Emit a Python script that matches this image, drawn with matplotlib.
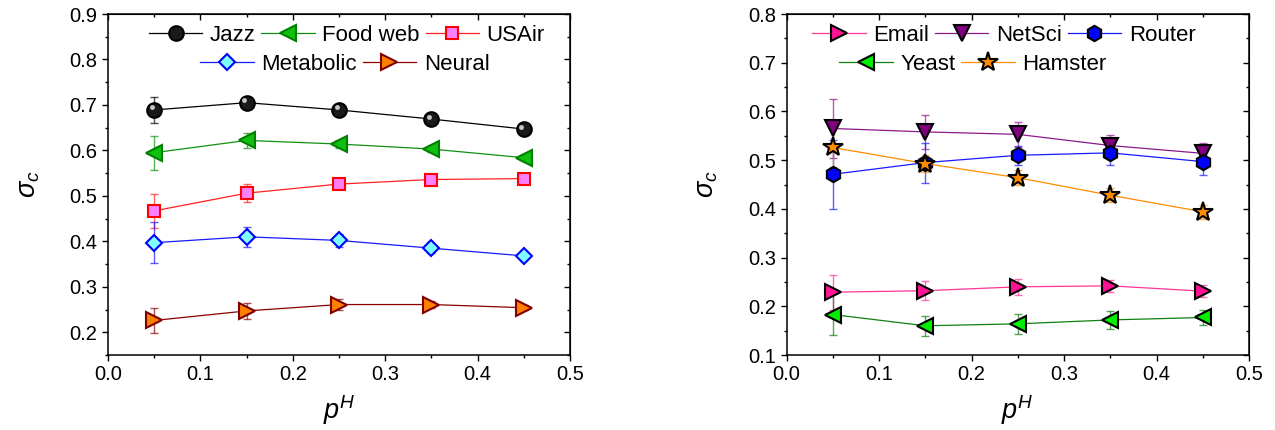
import matplotlib
matplotlib.use('Agg')
import matplotlib.pyplot as plt
from matplotlib.ticker import MultipleLocator
from matplotlib.transforms import offset_copy

plt.rcParams['font.family'] = ['Liberation Sans', 'DejaVu Sans']
plt.rcParams['mathtext.fontset'] = 'custom'
plt.rcParams['mathtext.rm'] = 'Liberation Sans'
plt.rcParams['mathtext.it'] = 'Liberation Sans:italic'

# data
p_h = [0.05, 0.15, 0.25, 0.35, 0.45]

jazz = [0.689, 0.705, 0.689, 0.669, 0.647]
jazz_err = [0.028, 0.012, 0.008, 0.006, 0.005]
foodweb = [0.595, 0.622, 0.614, 0.603, 0.584]
foodweb_err = [0.037, 0.017, 0.008, 0.007, 0.006]
usair = [0.467, 0.506, 0.526, 0.536, 0.538]
usair_err = [0.037, 0.020, 0.010, 0.006, 0.005]
metabolic = [0.397, 0.410, 0.402, 0.385, 0.368]
metabolic_err = [0.045, 0.022, 0.015, 0.010, 0.006]
neural = [0.226, 0.247, 0.261, 0.261, 0.254]
neural_err = [0.028, 0.017, 0.012, 0.008, 0.006]

email = [0.229, 0.232, 0.240, 0.242, 0.231]
email_err = [0.036, 0.020, 0.017, 0.012, 0.012]
netsci = [0.565, 0.558, 0.553, 0.530, 0.514]
netsci_err = [0.060, 0.035, 0.026, 0.022, 0.022]
router = [0.471, 0.495, 0.510, 0.515, 0.497]
router_err = [0.071, 0.041, 0.020, 0.025, 0.028]
yeast = [0.183, 0.160, 0.164, 0.172, 0.177]
yeast_err = [0.042, 0.021, 0.021, 0.018, 0.016]
hamster = [0.526, 0.493, 0.464, 0.428, 0.394]
hamster_err = [0.040, 0.018, 0.015, 0.014, 0.014]

fig = plt.figure(figsize=(12.75, 4.3), dpi=100)
ax1 = fig.add_axes([0.0847, 0.1744, 0.3624, 0.793])
ax2 = fig.add_axes([0.617, 0.1744, 0.3626, 0.793])


def draw(ax, y, err, label, line_c, marker, face, edge, ms, err_alpha=0.7):
    ax.errorbar(p_h, y, yerr=err, fmt='none', ecolor=line_c, elinewidth=1.0,
                capsize=3, capthick=1.0, alpha=err_alpha, zorder=2)
    h, = ax.plot(p_h, y, '-', color=line_c, lw=0.9, marker=marker, ms=ms,
                 mfc=face, mec=edge, mew=1.5, label=label, zorder=3)
    return h


h_jazz = draw(ax1, jazz, jazz_err, 'Jazz', 'black', 'o', '#1a1a1a', 'black', 10.5)
# small highlight to mimic the shaded sphere
ax1.plot(p_h, jazz, 'o', ms=3.5, color='#c8c8c8', mec='none', zorder=4,
         transform=offset_copy(ax1.transData, fig, x=-2.5, y=2.5, units='dots'))
h_food = draw(ax1, foodweb, foodweb_err, 'Food web', '#109010', '<', '#10c010', '#008000', 11)
h_usair = draw(ax1, usair, usair_err, 'USAir', '#ff2020', 's', '#ff80ff', '#ff0000', 8.5)
h_meta = draw(ax1, metabolic, metabolic_err, 'Metabolic', '#1a1aff', 'D', '#80ffff', '#0000ff', 8.5)
h_neur = draw(ax1, neural, neural_err, 'Neural', '#8b0000', '>', '#ff8000', '#800000', 11)

h_email = draw(ax2, email, email_err, 'Email', '#ff3399', '>', '#ff1493', 'black', 11)
h_net = draw(ax2, netsci, netsci_err, 'NetSci', '#8b1a8b', 'v', '#800080', 'black', 11)
h_rout = draw(ax2, router, router_err, 'Router', '#1a1aff', 'h', '#0000ff', 'black', 11)
h_yeast = draw(ax2, yeast, yeast_err, 'Yeast', '#108010', '<', '#00ee00', 'black', 11)
h_ham = draw(ax2, hamster, hamster_err, 'Hamster', '#ff8c00', '*', '#ff8c00', 'black', 14.5)

for ax, lo, hi in [(ax1, 0.15, 0.9), (ax2, 0.1, 0.8)]:
    ax.set_xlim(0.0, 0.5)
    ax.set_ylim(lo, hi)
    ax.xaxis.set_major_locator(MultipleLocator(0.1))
    ax.xaxis.set_minor_locator(MultipleLocator(0.05))
    ax.yaxis.set_major_locator(MultipleLocator(0.1))
    ax.yaxis.set_minor_locator(MultipleLocator(0.05))
    ax.xaxis.set_major_formatter(matplotlib.ticker.FormatStrFormatter('%.1f'))
    ax.yaxis.set_major_formatter(matplotlib.ticker.FormatStrFormatter('%.1f'))
    ax.tick_params(which='both', direction='out', width=1.0, labelsize=14.5, pad=3)
    ax.tick_params(which='major', length=4.5)
    ax.tick_params(which='minor', length=2.5)
    for s in ax.spines.values():
        s.set_linewidth(1.1)
    # inward ticks on top and right, like the original
    top = ax.secondary_xaxis('top')
    top.xaxis.set_major_locator(MultipleLocator(0.1))
    top.xaxis.set_minor_locator(MultipleLocator(0.05))
    top.tick_params(which='both', direction='in', labeltop=False, width=1.0)
    top.tick_params(which='major', length=4.5)
    top.tick_params(which='minor', length=2.5)
    right = ax.secondary_yaxis('right')
    right.yaxis.set_major_locator(MultipleLocator(0.1))
    right.yaxis.set_minor_locator(MultipleLocator(0.05))
    right.tick_params(which='both', direction='in', labelright=False, width=1.0)
    right.tick_params(which='major', length=4.5)
    right.tick_params(which='minor', length=2.5)
    ax.set_xlabel(r'$p^H$', fontsize=19.5, labelpad=6)
    ax.set_ylabel(r'$\sigma_c$', fontsize=19.5, labelpad=20)

leg_kw = dict(frameon=False, fontsize=16, handlelength=2.4, handletextpad=0.35,
              columnspacing=0.25, borderaxespad=0.0, borderpad=0.0)

l1 = ax1.legend(handles=[h_jazz, h_food, h_usair], ncol=3, loc='center',
                bbox_to_anchor=(0.517, 0.938), **leg_kw)
ax1.add_artist(l1)
ax1.legend(handles=[h_meta, h_neur], ncol=2, loc='center',
           bbox_to_anchor=(0.513, 0.853), **leg_kw)

l2 = ax2.legend(handles=[h_email, h_net, h_rout], ncol=3, loc='center',
                bbox_to_anchor=(0.47, 0.938), **leg_kw)
ax2.add_artist(l2)
ax2.legend(handles=[h_yeast, h_ham], ncol=2, loc='center',
           bbox_to_anchor=(0.403, 0.853), **leg_kw)

fig.savefig('out.png', dpi=100)
